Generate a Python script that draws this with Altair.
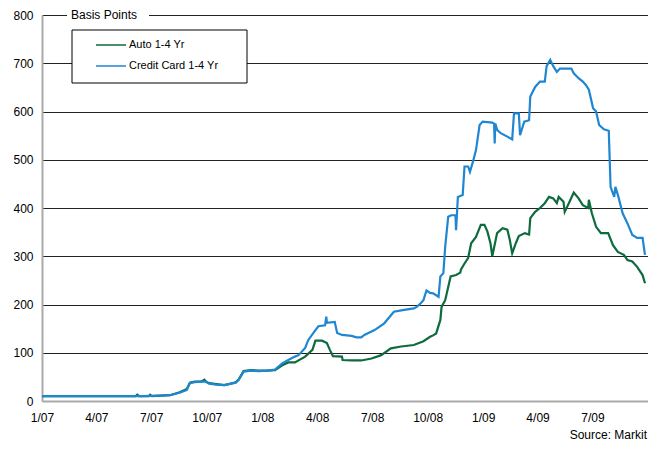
import altair as alt
import pandas as pd

auto_dates = [
    "2007-01-01", "2007-03-01", "2007-05-01", "2007-06-05", "2007-06-08", "2007-06-11",
    "2007-06-27", "2007-06-29", "2007-07-02", "2007-08-01", "2007-08-17", "2007-08-29",
    "2007-09-03", "2007-09-11", "2007-09-22", "2007-09-27", "2007-09-30", "2007-10-05",
    "2007-10-17", "2007-10-30", "2007-11-10", "2007-11-18", "2007-11-23", "2007-12-01",
    "2007-12-13", "2007-12-26", "2008-01-09", "2008-01-22", "2008-02-03", "2008-02-13",
    "2008-02-24", "2008-03-12", "2008-03-24", "2008-03-29", "2008-04-09", "2008-04-17",
    "2008-04-22", "2008-04-27", "2008-05-12", "2008-05-13", "2008-05-28", "2008-06-13",
    "2008-06-30", "2008-07-16", "2008-08-01", "2008-08-18", "2008-09-08", "2008-09-24",
    "2008-10-05", "2008-10-10", "2008-10-15", "2008-10-22", "2008-10-24", "2008-10-30",
    "2008-11-08", "2008-11-17", "2008-11-24", "2008-11-25", "2008-12-01", "2008-12-07",
    "2008-12-12", "2008-12-20", "2008-12-28", "2009-01-03", "2009-01-08", "2009-01-13",
    "2009-01-16", "2009-01-24", "2009-02-02", "2009-02-10", "2009-02-14", "2009-02-18",
    "2009-02-24", "2009-03-01", "2009-03-11", "2009-03-18", "2009-03-20", "2009-03-28",
    "2009-04-05", "2009-04-13", "2009-04-20", "2009-04-27", "2009-05-03", "2009-05-06",
    "2009-05-14", "2009-05-16", "2009-05-24", "2009-05-31", "2009-06-08", "2009-06-15",
    "2009-06-24", "2009-06-25", "2009-06-30", "2009-07-07", "2009-07-15", "2009-07-27",
    "2009-08-04", "2009-08-12", "2009-08-22", "2009-08-28", "2009-09-05", "2009-09-13",
    "2009-09-22", "2009-09-26",
]
auto_values = [
    10, 10, 10, 10, 13, 10,
    10, 13, 10, 12, 18, 25,
    38, 40, 40, 44, 40, 37,
    35, 33, 36, 39, 45, 62,
    64, 63, 63, 64, 74, 80,
    80, 92, 106, 125, 125, 120,
    106, 93, 92, 85, 84, 84,
    88, 95, 109, 113, 116, 124,
    133, 136, 140, 168, 195, 209,
    258, 261, 266, 272, 285, 296,
    327, 340, 365, 365, 351, 327,
    300, 348, 358, 355, 334, 306,
    327, 342, 348, 345, 379, 392,
    400, 410, 423, 420, 410, 423,
    413, 392, 413, 432, 420, 406,
    400, 417, 389, 361, 348, 348,
    323, 309, 303, 292, 289, 278,
    261, 244,
]

card_dates = [
    "2007-01-01", "2007-03-01", "2007-05-01", "2007-06-15", "2007-07-15", "2007-08-01",
    "2007-08-17", "2007-08-29", "2007-09-03", "2007-09-11", "2007-09-22", "2007-09-29",
    "2007-10-05", "2007-10-17", "2007-10-30", "2007-11-10", "2007-11-18", "2007-11-23",
    "2007-12-01", "2007-12-13", "2007-12-26", "2008-01-09", "2008-01-22", "2008-02-03",
    "2008-02-13", "2008-02-24", "2008-03-01", "2008-03-12", "2008-03-17", "2008-03-29",
    "2008-04-03", "2008-04-14", "2008-04-16", "2008-04-17", "2008-04-30", "2008-05-04",
    "2008-05-12", "2008-05-28", "2008-06-05", "2008-06-13", "2008-06-18", "2008-07-05",
    "2008-07-21", "2008-08-06", "2008-08-23", "2008-09-08", "2008-09-13", "2008-09-19",
    "2008-09-24", "2008-09-29", "2008-10-05", "2008-10-10", "2008-10-19", "2008-10-22",
    "2008-10-27", "2008-10-30", "2008-11-04", "2008-11-09", "2008-11-16", "2008-11-17",
    "2008-11-20", "2008-11-28", "2008-12-01", "2008-12-07", "2008-12-10", "2008-12-15",
    "2008-12-20", "2008-12-26", "2008-12-31", "2009-01-16", "2009-01-19", "2009-01-20",
    "2009-01-21", "2009-01-24", "2009-01-30", "2009-02-10", "2009-02-18", "2009-02-21",
    "2009-03-01", "2009-03-03", "2009-03-10", "2009-03-18", "2009-03-20", "2009-03-28",
    "2009-04-05", "2009-04-13", "2009-04-16", "2009-04-22", "2009-04-27", "2009-05-03",
    "2009-05-08", "2009-05-27", "2009-05-31", "2009-06-08", "2009-06-15", "2009-06-20",
    "2009-06-25", "2009-07-02", "2009-07-07", "2009-07-12", "2009-07-20", "2009-07-28",
    "2009-07-31", "2009-08-06", "2009-08-08", "2009-08-13", "2009-08-20", "2009-08-28",
    "2009-09-05", "2009-09-13", "2009-09-22", "2009-09-26",
]
card_values = [
    10, 10, 10, 10, 11, 12,
    17, 23, 37, 39, 40, 40,
    36, 34, 33, 36, 38, 44,
    61, 63, 62, 63, 65, 78,
    85, 92, 95, 110, 126, 147,
    155, 157, 175, 162, 164, 141,
    137, 135, 132, 132, 137, 147,
    161, 185, 189, 192, 195, 202,
    209, 229, 224, 223, 216, 258,
    265, 320, 382, 385, 385, 354,
    423, 427, 486, 486, 475, 496,
    520, 572, 579, 577, 575, 534,
    575, 562, 555, 548, 542, 596,
    596, 551, 579, 582, 631, 651,
    662, 662, 694, 707, 694, 682,
    689, 689, 679, 669, 662, 655,
    645, 607, 600, 572, 563, 560,
    444, 423, 444, 423, 389, 368,
    344, 338, 338, 303,
]

series_names = ["Auto 1-4 Yr", "Credit Card 1-4 Yr"]
series_colors = ["#0d6b3e", "#1f86d2"]
tick_dates = ["2007-01-01", "2007-04-01", "2007-07-01", "2007-10-01", "2008-01-01",
              "2008-04-01", "2008-07-01", "2008-10-01", "2009-01-01", "2009-04-01",
              "2009-07-01"]
y_ticks = [0, 100, 200, 300, 400, 500, 600, 700, 800]

df = pd.concat([
    pd.DataFrame({"date": auto_dates, "value": auto_values, "series": series_names[0]}),
    pd.DataFrame({"date": card_dates, "value": card_values, "series": series_names[1]}),
])

FONT = "Liberation Sans"
W, H = 606, 386

x_enc = alt.X(
    "date:T",
    scale=alt.Scale(domain=["2007-01-01", "2009-10-01"]),
    axis=alt.Axis(
        values=[pd.Timestamp(d).isoformat() for d in tick_dates],
        format="%-m/%y", title=None, grid=False, ticks=False, tickSize=0,
        labelPadding=11, labelFontSize=12, labelFont=FONT, labelColor="#000",
        labelFlush=False, labelAlign="center",
        domainColor="#aaaaaa", domainWidth=2, labelOverlap=False,
    ),
)
y_enc = alt.Y(
    "value:Q",
    scale=alt.Scale(domain=[0, 800], nice=False),
    axis=alt.Axis(
        values=y_ticks, title=None, ticks=False, tickSize=0, labelPadding=9,
        labelFontSize=12, labelFont=FONT, labelColor="#000",
        domainColor="#aaaaaa", domainWidth=2,
        grid=True,
        gridColor={"condition": {"test": "datum.value === 0", "value": "#aaaaaa"}, "value": "#222222"},
        gridWidth=1,
    ),
)

lines = alt.Chart(df).mark_line(strokeWidth=2.2, interpolate="linear").encode(
    x=x_enc,
    y=y_enc,
    color=alt.Color(
        "series:N",
        scale=alt.Scale(domain=series_names, range=series_colors),
        legend=alt.Legend(
            orient="none", legendX=53, legendY=14, title=None,
            symbolType="stroke", symbolSize=900, symbolStrokeWidth=1.5,
            labelFont=FONT, labelFontSize=11, labelColor="#000",
            labelOffset=2, rowPadding=-3, padding=0,
        ),
    ),
)

one = alt.Data(values=[{}])
legend_box = alt.Chart(one).mark_rect(fill="white", stroke="#000", strokeWidth=1).encode(
    x=alt.value(30), x2=alt.value(205), y=alt.value(15), y2=alt.value(68)
)
title_bg = alt.Chart(one).mark_rect(fill="white").encode(
    x=alt.value(25), x2=alt.value(107), y=alt.value(-4), y2=alt.value(4)
)
title_txt = alt.Chart(one).mark_text(
    text="Basis Points", align="left", baseline="middle", font=FONT, fontSize=12, color="#000"
).encode(x=alt.value(29), y=alt.value(0))
source_txt = alt.Chart(one).mark_text(
    text="Source: Markit", align="right", baseline="middle", font=FONT, fontSize=12, color="#000"
).encode(x=alt.value(605), y=alt.value(420))

chart = alt.layer(legend_box, lines, title_bg, title_txt, source_txt).properties(
    width=W, height=H,
    autosize=alt.AutoSizeParams(type="none"),
    padding={"left": 34, "top": 7, "right": 0, "bottom": 40},
).configure_view(stroke=None)

chart.save("out.html", embed_options={"renderer": "svg", "actions": False})
